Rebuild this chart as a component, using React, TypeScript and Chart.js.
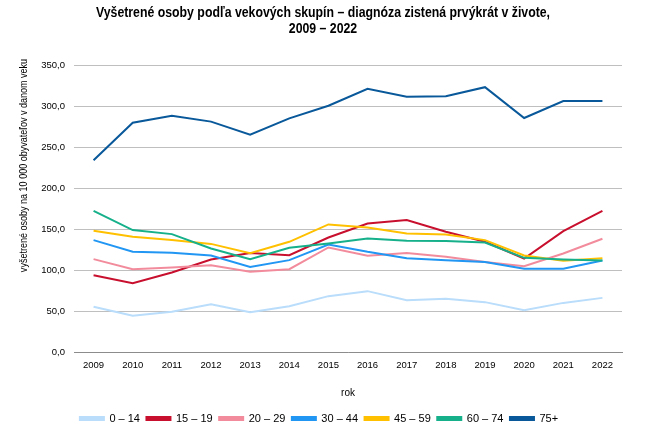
import React, { useEffect, useRef } from "react";
import { Chart, registerables } from "chart.js";

Chart.register(...registerables);

const years = ["2009", "2010", "2011", "2012", "2013", "2014", "2015", "2016", "2017", "2018", "2019", "2020", "2021", "2022"];
const groupLabels = ["0 – 14", "15 – 19", "20 – 29", "30 – 44", "45 – 59", "60 – 74", "75+"];
const age0_14 = [55.3, 44.3, 49.2, 58.5, 48.8, 56.1, 68.3, 74.4, 63.4, 65.0, 61.0, 51.2, 60.1, 66.2];
const age15_19 = [93.9, 84.1, 97.1, 113.0, 121.0, 118.3, 139.8, 156.9, 161.0, 146.8, 134.6, 114.2, 147.6, 172.3];
const age20_29 = [113.4, 101.2, 103.2, 106.0, 98.0, 101.2, 127.6, 117.5, 121.0, 116.2, 109.8, 104.9, 120.3, 138.2];
const age30_44 = [136.6, 122.4, 121.1, 117.9, 104.0, 112.2, 131.3, 122.4, 114.6, 112.2, 109.8, 101.6, 101.6, 111.8];
const age45_59 = [148.0, 140.6, 136.6, 132.0, 120.7, 134.5, 155.7, 152.0, 144.7, 143.5, 136.6, 117.9, 111.4, 114.6];
const age60_74 = [172.3, 148.8, 143.9, 126.4, 113.4, 127.2, 132.5, 138.6, 135.8, 135.4, 133.7, 115.0, 113.0, 111.8];
const age75plus = [234.0, 279.6, 288.0, 281.0, 265.0, 285.0, 300.4, 321.0, 311.4, 312.0, 323.0, 285.4, 306.0, 306.0];
const seriesValues = [age0_14, age15_19, age20_29, age30_44, age45_59, age60_74, age75plus];
const seriesColors = ["#B9DDFB", "#C8102E", "#F28C9D", "#2196F3", "#FFC000", "#16B08B", "#08589A"];

const titleLines = ["Vyšetrené osoby podľa vekových skupín – diagnóza zistená prvýkrát v živote,", "2009 – 2022"];
const yTitle = "vyšetrené osoby na 10 000 obyvateľov v danom veku";
const xTitle = "rok";

const SANS = "'Liberation Sans', Arial, sans-serif";

// Draws the narrow (condensed) title and y-axis title as canvas text.
const narrowTextPlugin = {
  id: "narrowText",
  afterDraw(chart: any) {
    const ctx: CanvasRenderingContext2D = chart.ctx;
    const area = chart.chartArea;
    ctx.save();
    ctx.fillStyle = "#000";
    ctx.textAlign = "center";
    ctx.textBaseline = "alphabetic";
    ctx.font = `bold 15px ${SANS}`;
    ctx.save();
    ctx.translate(chart.width / 2 - 2, 0);
    ctx.scale(0.82, 1);
    ctx.fillText(titleLines[0], 0, 17);
    ctx.fillText(titleLines[1], 0, 32.5);
    ctx.restore();

    ctx.save();
    ctx.font = `11px ${SANS}`;
    ctx.textBaseline = "middle";
    ctx.translate(area.left - 50, area.top + (area.bottom - area.top) * 0.35);
    ctx.rotate(-Math.PI / 2);
    ctx.scale(0.82, 1);
    ctx.fillText(yTitle, 0, 0);
    ctx.restore();
    ctx.restore();
  },
};

export default function App() {
  const ref = useRef<HTMLCanvasElement>(null);
  useEffect(() => {
    document.body.style.margin = "0";
    if (!ref.current) return;
    const chart = new Chart(ref.current, {
      type: "line",
      data: {
        labels: years,
        datasets: seriesValues.map((vals, i) => ({
          label: groupLabels[i],
          data: vals,
          borderColor: seriesColors[i],
          backgroundColor: seriesColors[i],
          borderWidth: 2,
          pointRadius: 0,
          tension: 0,
          order: seriesValues.length - i,
        })),
      },
      options: {
        animation: false,
        responsive: false,
        layout: { padding: { left: 16, right: 28, top: 65, bottom: 4 } },
        plugins: {
          tooltip: { enabled: false },
          title: { display: false },
          legend: {
            position: "bottom",
            labels: {
              color: "#000",
              boxWidth: 24,
              boxHeight: 3,
              padding: 6.5,
              font: { family: SANS, size: 11 },
              sort: (a: any, b: any) => (a.datasetIndex ?? 0) - (b.datasetIndex ?? 0),
            },
          },
        },
        scales: {
          x: {
            offset: true,
            grid: { display: false, drawTicks: false },
            border: { display: true, color: "#8C8C8C" },
            ticks: { color: "#000", padding: 7.3, font: { family: SANS, size: 9.5 } },
            title: { display: true, text: xTitle, color: "#000", padding: { top: 8.8, bottom: 7.5 }, font: { family: SANS, size: 10 } },
          },
          y: {
            min: 0,
            max: 350,
            afterFit: (scale: any) => {
              scale.width = 58;
            },
            ticks: {
              stepSize: 50,
              color: "#000",
              padding: 9,
              font: { family: SANS, size: 9.5 },
              callback: (v: any) => Number(v).toFixed(1).replace(".", ","),
            },
            grid: { color: "#BFBFBF", drawTicks: false },
            border: { display: false },
          },
        },
      },
      plugins: [narrowTextPlugin],
    });
    return () => chart.destroy();
  }, []);
  return (
    <div style={{ width: 650, height: 438 }}>
      <canvas ref={ref} width={650} height={438} />
    </div>
  );
}
